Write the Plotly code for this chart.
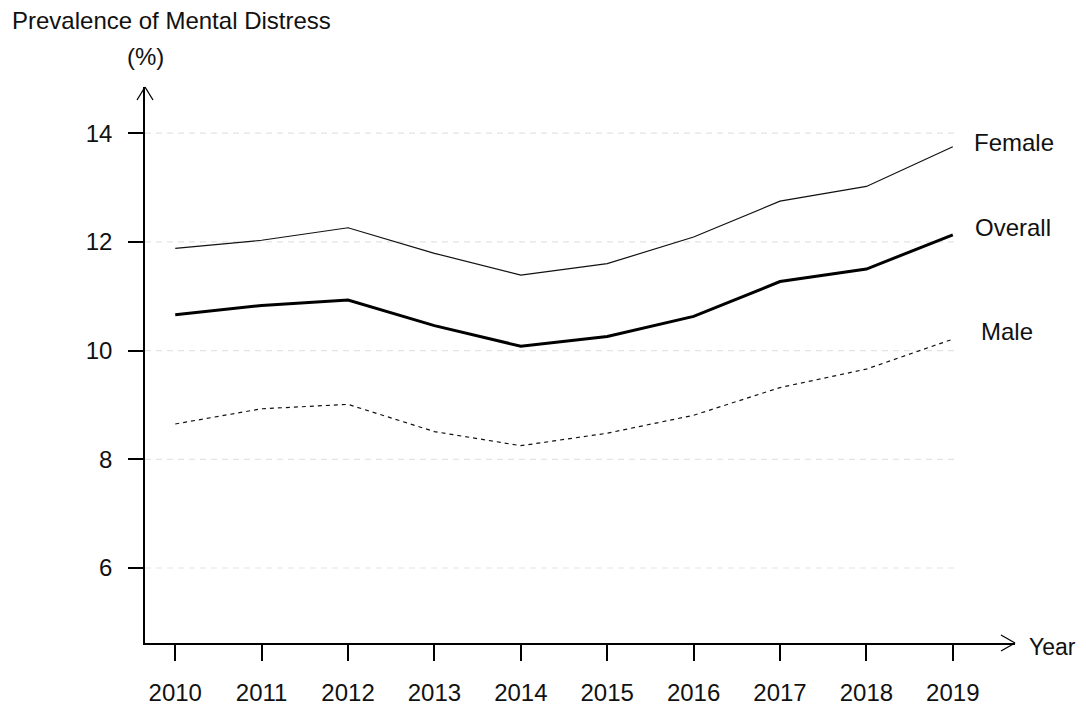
import plotly.graph_objects as go

years = [2010, 2011, 2012, 2013, 2014, 2015, 2016, 2017, 2018, 2019]
female = [11.88, 12.03, 12.26, 11.79, 11.39, 11.60, 12.09, 12.75, 13.02, 13.75]
overall = [10.66, 10.83, 10.93, 10.46, 10.08, 10.26, 10.63, 11.27, 11.50, 12.13]
male = [8.65, 8.93, 9.01, 8.51, 8.25, 8.48, 8.81, 9.32, 9.66, 10.21]
y_ticks = [6, 8, 10, 12, 14]
series_names = ["Female", "Overall", "Male"]

FONT = "Arial, Liberation Sans, sans-serif"
FS = 24
fig = go.Figure()
fig.add_trace(go.Scatter(x=years, y=female, mode="lines", name="Female",
                         line=dict(color="#111", width=1.2)))
fig.add_trace(go.Scatter(x=years, y=overall, mode="lines", name="Overall",
                         line=dict(color="#000", width=3)))
fig.add_trace(go.Scatter(x=years, y=male, mode="lines", name="Male",
                         line=dict(color="#111", width=1.2, dash="4px,4px")))

shapes = []
for t in y_ticks:
    shapes.append(dict(type="line", xref="x", yref="y", x0=2009.65, x1=2019.05,
                       y0=t, y1=t, line=dict(color="#e3e3e3", width=1.2, dash="6px,5px"),
                       layer="below"))
for dx, dy in [(-8, -13), (8, -13)]:
    shapes.append(dict(type="line", xref="paper", yref="paper",
                       xsizemode="pixel", ysizemode="pixel", xanchor=0, yanchor=1,
                       x0=0, y0=0, x1=dx, y1=dy, line=dict(color="#000", width=1.3)))
for dx, dy in [(-14, 8), (-14, -8)]:
    shapes.append(dict(type="line", xref="paper", yref="paper",
                       xsizemode="pixel", ysizemode="pixel", xanchor=1, yanchor=0,
                       x0=0, y0=0, x1=dx, y1=dy, line=dict(color="#000", width=1.3)))

annotations = [
    dict(text="Prevalence of Mental Distress", xref="paper", yref="paper",
         x=-0.155, y=1.1205, xanchor="left", yanchor="middle", showarrow=False,
         font=dict(size=FS, color="#111", family=FONT)),
    dict(text="(%)", xref="paper", yref="paper", x=0, y=1.054,
         xanchor="center", yanchor="middle", showarrow=False,
         font=dict(size=FS, color="#111", family=FONT)),
    dict(text="Year", xref="paper", yref="paper", x=1.0135, y=-0.007,
         xanchor="left", yanchor="middle", showarrow=False,
         font=dict(size=23, color="#111", family=FONT)),
]
label_cfg = {"Female": (female, 19, 4), "Overall": (overall, 20, 7), "Male": (male, 26, 8)}
for name in series_names:
    vals, xs, ys = label_cfg[name]
    annotations.append(dict(text=name, x=years[-1], y=vals[-1], xref="x", yref="y",
                            xanchor="left", yanchor="middle", xshift=xs, yshift=ys,
                            showarrow=False, font=dict(size=FS, color="#111", family=FONT)))

fig.update_layout(
    width=1078, height=699,
    margin=dict(l=137, r=71, t=79, b=64),
    paper_bgcolor="white", plot_bgcolor="white",
    showlegend=False,
    font=dict(family=FONT, size=FS, color="#111"),
    shapes=shapes, annotations=annotations,
    xaxis=dict(range=[2009.65, 2019.72], tickvals=years, ticktext=[str(y) for y in years],
               automargin=False,
               showgrid=False, zeroline=False, showline=True, linecolor="#000", linewidth=1.5,
               ticks="outside", ticklen=16, tickwidth=1.5, tickcolor="#000",
               ticklabelstandoff=11, tickfont=dict(size=FS, family=FONT, color="#111")),
    yaxis=dict(range=[4.62, 14.85], tickvals=y_ticks, ticktext=[str(t) for t in y_ticks],
               automargin=False,
               showgrid=False, zeroline=False, showline=True, linecolor="#000", linewidth=1.5,
               ticks="outside", ticklen=15, tickwidth=1.5, tickcolor="#000",
               ticklabelstandoff=11, tickfont=dict(size=FS, family=FONT, color="#111")),
)

fig.write_html("out.html")
